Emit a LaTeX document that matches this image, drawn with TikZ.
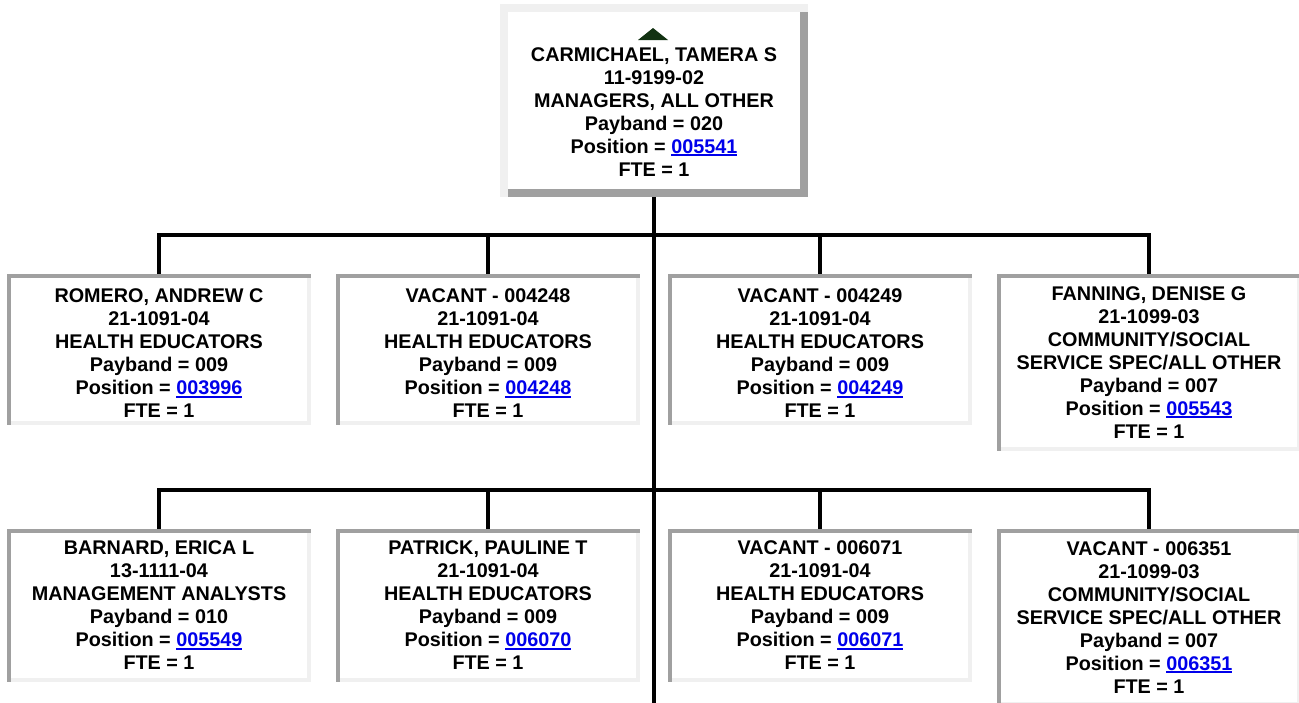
\documentclass[tikz,border=0pt]{standalone}
\usepackage{fontspec}
\setmainfont{Liberation Sans}
\usepackage{tikz}
\usetikzlibrary{positioning}
\definecolor{edgedark}{RGB}{160,160,160}
\definecolor{edgelight}{RGB}{240,240,240}
\definecolor{linkblue}{RGB}{0,0,235}
\definecolor{upmark}{RGB}{18,50,18}
\newcommand{\orgfont}{\fontsize{14.85pt}{17.25pt}\selectfont\bfseries}
\newcommand{\poslink}[1]{\textcolor{linkblue}{\setbox0\hbox{#1}\rlap{\rule[-2.2pt]{\wd0}{1.5pt}}\box0}}
\newcommand{\lowstrut}{\rule{0pt}{15.9pt}}

\begin{document}
\begin{tikzpicture}[x=0.75pt,y=-0.75pt,
    wire/.style={line width=3pt},
    insetbox/.style={minimum width=228pt,minimum height=113.25pt,inner sep=0pt,
      align=center,font=\orgfont,fill=white,
      path picture={
        \fill[edgedark] (path picture bounding box.south west) rectangle (path picture bounding box.north east);
        \fill[edgelight] ([xshift=3pt]path picture bounding box.south west) rectangle ([yshift=-3pt]path picture bounding box.north east);
        \fill[white] ([xshift=3pt,yshift=3pt]path picture bounding box.south west) rectangle ([xshift=-3pt,yshift=-3pt]path picture bounding box.north east);
      }},
    tallbox/.style={insetbox,minimum height=132.75pt},
    outsetbox/.style={minimum width=231pt,minimum height=144.75pt,inner sep=0pt,
      align=center,font=\orgfont,fill=white,
      path picture={
        \fill[edgelight] (path picture bounding box.south west) rectangle (path picture bounding box.north east);
        \fill[edgedark] ([xshift=6pt]path picture bounding box.south west) rectangle ([yshift=-6pt]path picture bounding box.north east);
        \fill[white] ([xshift=6pt,yshift=6pt]path picture bounding box.south west) rectangle ([xshift=-6pt,yshift=-6pt]path picture bounding box.north east);
      }}]
  \clip (0,0) rectangle (1299,703);

  % manager
  \node[outsetbox] (boss) at (654,100.5)
    {\rule{0pt}{10.5pt}\\CARMICHAEL, TAMERA S\\11-9199-02\\MANAGERS, ALL OTHER\\Payband = 020\\Position = \poslink{005541}\\FTE = 1};
  \fill[upmark] (638,40) -- (668,40) -- (653,28) -- cycle;

  % first row
  \node[insetbox] (romero) at (159,349.5)
    {\lowstrut ROMERO, ANDREW C\\21-1091-04\\HEALTH EDUCATORS\\Payband = 009\\Position = \poslink{003996}\\FTE = 1};
  \node[insetbox] (vacA) at (488,349.5)
    {\lowstrut VACANT - 004248\\21-1091-04\\HEALTH EDUCATORS\\Payband = 009\\Position = \poslink{004248}\\FTE = 1};
  \node[insetbox] (vacB) at (820,349.5)
    {\lowstrut VACANT - 004249\\21-1091-04\\HEALTH EDUCATORS\\Payband = 009\\Position = \poslink{004249}\\FTE = 1};
  \node[tallbox] (fanning) at (1149,362.5)
    {FANNING, DENISE G\\21-1099-03\\COMMUNITY/SOCIAL\\SERVICE SPEC/ALL OTHER\\Payband = 007\\Position = \poslink{005543}\\FTE = 1};

  % second row
  \node[insetbox,minimum height=114.75pt] (barnard) at (159,605.5)
    {BARNARD, ERICA L\\13-1111-04\\MANAGEMENT ANALYSTS\\Payband = 010\\Position = \poslink{005549}\\FTE = 1};
  \node[insetbox,minimum height=114.75pt] (patrick) at (488,605.5)
    {PATRICK, PAULINE T\\21-1091-04\\HEALTH EDUCATORS\\Payband = 009\\Position = \poslink{006070}\\FTE = 1};
  \node[insetbox,minimum height=114.75pt] (vacC) at (820,605.5)
    {VACANT - 006071\\21-1091-04\\HEALTH EDUCATORS\\Payband = 009\\Position = \poslink{006071}\\FTE = 1};
  \node[tallbox] (vacD) at (1149,617.5)
    {VACANT - 006351\\21-1099-03\\COMMUNITY/SOCIAL\\SERVICE SPEC/ALL OTHER\\Payband = 007\\Position = \poslink{006351}\\FTE = 1};

  % connectors
  \coordinate (busA) at (654,235);
  \coordinate (busB) at (654,490);
  \coordinate (trunkend) at (654,703);
  \draw[wire] (boss.south) -- (trunkend);
  \foreach \n in {romero,vacA,vacB,fanning}
    \draw[wire] (busA) -| (\n.north);
  \foreach \n in {barnard,patrick,vacC,vacD}
    \draw[wire] (busB) -| (\n.north);
\end{tikzpicture}
\end{document}
